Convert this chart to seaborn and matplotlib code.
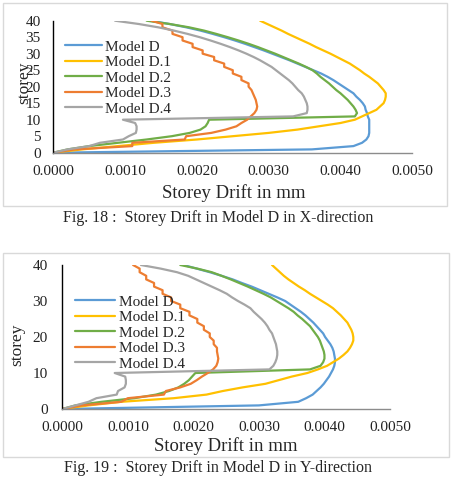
import matplotlib
matplotlib.use('Agg')
import matplotlib.pyplot as plt
import matplotlib.patches as mpatches
import seaborn as sns
import pandas as pd
import numpy as np

sns.set_theme(style='white')
plt.rcParams['font.family'] = ['Liberation Serif', 'DejaVu Serif']

models = ['Model D', 'Model D.1', 'Model D.2', 'Model D.3', 'Model D.4']
colors = ['#5B9BD5', '#FFC000', '#70AD47', '#ED7D31', '#A5A5A5']
storeys = list(range(41))

# Fig. 18 - X-direction drift per storey (0..40)
x_model_d = [0, 0.0036, 0.00418, 0.0043, 0.00436, 0.00439, 0.0044, 0.0044, 0.0044, 0.0044, 0.0044,
             0.00438, 0.00437, 0.00435, 0.00434, 0.00431, 0.00427, 0.00422, 0.00418, 0.00411, 0.00404,
             0.00397, 0.0039, 0.00382, 0.00373, 0.00362, 0.00351, 0.0034, 0.00329, 0.00317, 0.00305,
             0.00293, 0.0028, 0.00267, 0.00253, 0.00238, 0.00222, 0.00205, 0.00185, 0.00162, 0.00135]
x_model_d1 = [0, 0.0004, 0.0009, 0.0014, 0.002, 0.0025, 0.003, 0.0034, 0.0037, 0.004, 0.0042,
              0.0043, 0.0044, 0.0045, 0.00455, 0.0046, 0.00462, 0.00463, 0.00463, 0.0046, 0.00456,
              0.00452, 0.00446, 0.0044, 0.00433, 0.00427, 0.0042, 0.00413, 0.00404, 0.00395, 0.00386,
              0.00376, 0.00366, 0.00357, 0.00347, 0.00337, 0.00327, 0.00318, 0.00308, 0.00298, 0.00288]
x_model_d2 = [0, 0.0002, 0.0005, 0.0009, 0.0013, 0.00165, 0.0019, 0.00205, 0.00212, 0.00215, 0.00217,
              0.0042, 0.00423, 0.00421, 0.00418, 0.00414, 0.0041, 0.00405, 0.004, 0.00394, 0.00389,
              0.00384, 0.00378, 0.00372, 0.00367, 0.00361, 0.00352, 0.00342, 0.00331, 0.0032, 0.00309,
              0.00297, 0.00285, 0.00272, 0.00258, 0.00243, 0.00227, 0.0021, 0.00189, 0.00162, 0.0013]
x_model_d3 = [0, 0.0003, 0.0011, 0.0011, 0.00183, 0.00185, 0.0022, 0.0024, 0.00255, 0.00262, 0.0027,
              0.00275, 0.0028, 0.00283, 0.00284, 0.00283, 0.00282, 0.0028, 0.00278, 0.00276, 0.00272,
              0.00272, 0.00262, 0.00262, 0.0025, 0.0025, 0.00238, 0.00238, 0.00224, 0.00224, 0.00208,
              0.00208, 0.00194, 0.00194, 0.0018, 0.0018, 0.00166, 0.00166, 0.00152, 0.00152, 0.00137]
x_model_d4 = [0, 0.0002, 0.0005, 0.00065, 0.00097, 0.00105, 0.00115, 0.00116, 0.00116, 0.00114, 0.00097,
              0.00334, 0.00353, 0.00354, 0.00354, 0.00353, 0.00351, 0.00349, 0.00346, 0.00341, 0.00337,
              0.00333, 0.00328, 0.00322, 0.00316, 0.0031, 0.00304, 0.00296, 0.00288, 0.00279, 0.00269,
              0.00258, 0.00246, 0.00233, 0.00219, 0.00204, 0.00187, 0.00168, 0.00146, 0.00119, 0.00086]

# Fig. 19 - Y-direction drift per storey (0..40)
y_model_d = [0, 0.003, 0.0036, 0.00372, 0.00382, 0.00388, 0.00394, 0.00399, 0.00403, 0.00407, 0.0041,
             0.00413, 0.00415, 0.00416, 0.00416, 0.00415, 0.00414, 0.00412, 0.00409, 0.00405, 0.00401,
             0.00398, 0.00393, 0.00388, 0.00383, 0.00377, 0.00371, 0.00364, 0.00356, 0.00348, 0.0034,
             0.00328, 0.00315, 0.00302, 0.00289, 0.00274, 0.0026, 0.00243, 0.00225, 0.00205, 0.00185]
y_model_d1 = [0, 0.0004, 0.0009, 0.0017, 0.0022, 0.00245, 0.00275, 0.0031, 0.0033, 0.0035, 0.00374,
              0.0039, 0.00404, 0.00413, 0.00422, 0.00429, 0.00435, 0.00439, 0.00442, 0.00444, 0.00444,
              0.00443, 0.00441, 0.00438, 0.00435, 0.0043, 0.00425, 0.00419, 0.00413, 0.00405, 0.00396,
              0.00387, 0.00378, 0.0037, 0.00361, 0.00353, 0.00345, 0.00338, 0.00332, 0.00326, 0.0032]
y_model_d2 = [0, 0.0002, 0.0006, 0.0011, 0.00143, 0.00163, 0.00177, 0.00186, 0.00193, 0.00198, 0.00203,
              0.00378, 0.00394, 0.00398, 0.004, 0.004, 0.00399, 0.00397, 0.00395, 0.00393, 0.0039,
              0.00386, 0.00382, 0.00378, 0.00372, 0.00366, 0.00359, 0.00353, 0.00345, 0.00336, 0.00327,
              0.00318, 0.00307, 0.00295, 0.00283, 0.0027, 0.00257, 0.00243, 0.00228, 0.00206, 0.0018]
y_model_d3 = [0, 0.0003, 0.0009, 0.001, 0.00155, 0.00158, 0.0018, 0.00196, 0.00205, 0.00213, 0.00222,
              0.0023, 0.00235, 0.00237, 0.00238, 0.00237, 0.00236, 0.00236, 0.00231, 0.00231, 0.00225,
              0.00225, 0.00216, 0.00216, 0.00206, 0.00206, 0.00194, 0.00194, 0.0018, 0.0018, 0.00166,
              0.00166, 0.00153, 0.00153, 0.0014, 0.0014, 0.00128, 0.00128, 0.00118, 0.00118, 0.00108]
y_model_d4 = [0, 0.0002, 0.0004, 0.00052, 0.00083, 0.00085, 0.00095, 0.00097, 0.00097, 0.00096, 0.0008,
              0.00316, 0.00322, 0.00325, 0.00327, 0.00328, 0.00328, 0.00327, 0.00326, 0.00324, 0.00322,
              0.0032, 0.00316, 0.00313, 0.00309, 0.00304, 0.00298, 0.00292, 0.00287, 0.00278, 0.00268,
              0.00259, 0.00251, 0.0024, 0.00228, 0.00216, 0.00204, 0.00192, 0.00175, 0.0015, 0.0012]

x_ticks = [0.0, 0.001, 0.002, 0.003, 0.004, 0.005]
top_yticks = [0, 5, 10, 15, 20, 25, 30, 35, 40]
bottom_yticks = [0, 10, 20, 30, 40]


def long_frame(series):
    rows = []
    for name, vals in zip(models, series):
        for s, v in zip(storeys, vals):
            rows.append({'model': name, 'storey': s, 'drift': v})
    return pd.DataFrame(rows)


def draw_panel(ax, df, yticks, legend_anchor, handle_len, ypad, fig):
    sns.lineplot(data=df, x='drift', y='storey', hue='model', hue_order=models,
                 palette=dict(zip(models, colors)), sort=False, estimator=None,
                 linewidth=1.6, legend=False, ax=ax)
    ax.set_xlim(0, 0.005)
    ax.set_ylim(0, 40)
    ax.set_xticks(x_ticks)
    ax.set_xticklabels(['%.4f' % t for t in x_ticks])
    ax.set_yticks(yticks)
    ax.tick_params(axis='both', length=0, labelsize=11, colors='#222222')
    ax.tick_params(axis='y', pad=ypad)
    ax.tick_params(axis='x', pad=8.5)
    for side in ['top', 'right']:
        ax.spines[side].set_visible(False)
    ax.spines['left'].set_color('black')
    ax.spines['left'].set_linewidth(1.0)
    ax.spines['bottom'].set_color('#8c8c8c')
    ax.spines['bottom'].set_linewidth(1.0)
    ax.set_xlabel('Storey Drift in mm', fontsize=13.5)
    ax.set_ylabel('storey', fontsize=12.5)
    ax.legend(handles=ax.lines[:5], labels=models, loc='upper left',
              bbox_to_anchor=legend_anchor, bbox_transform=fig.transFigure,
              frameon=False, fontsize=11, handlelength=handle_len, handletextpad=0.25,
              labelspacing=0.12, borderpad=0, borderaxespad=0)


fig = plt.figure(figsize=(4.54, 4.8), dpi=100, facecolor='white')

# Panel frames
fig.patches.append(mpatches.Rectangle((3 / 454, 1 - 205.5 / 480), 444 / 454, 202.5 / 480,
                                      transform=fig.transFigure, fill=False,
                                      edgecolor='#d9d9d9', linewidth=1.0))
fig.patches.append(mpatches.Rectangle((3 / 454, 1 - 456.5 / 480), 446 / 454, 204 / 480,
                                      transform=fig.transFigure, fill=False,
                                      edgecolor='#d9d9d9', linewidth=1.0))

# Fig. 18
ax1 = fig.add_axes([53.3 / 454, 1 - 152.7 / 480, 359 / 454, 132 / 480])
draw_panel(ax1, long_frame([x_model_d, x_model_d1, x_model_d2, x_model_d3, x_model_d4]),
           top_yticks, (65 / 454, 1 - 40 / 480), 2.4, 9, fig)
ax1.xaxis.set_label_coords(0.503, -0.305)
ax1.xaxis.label.set_va('center')
ax1.yaxis.set_label_coords(-0.082, 0.528)
ax1.yaxis.label.set_va('center')
fig.text(218 / 454, 1 - 218 / 480, 'Fig. 18 :  Storey Drift in Model D in X-direction',
         ha='center', va='center', fontsize=11.5)

# Fig. 19
ax2 = fig.add_axes([62.3 / 454, 1 - 409 / 480, 327.7 / 454, 144 / 480])
draw_panel(ax2, long_frame([y_model_d, y_model_d1, y_model_d2, y_model_d3, y_model_d4]),
           bottom_yticks, (75 / 454, 1 - 295 / 480), 2.6, 10.5, fig)
ax2.xaxis.set_label_coords(0.499, -0.257)
ax2.xaxis.label.set_va('center')
ax2.yaxis.set_label_coords(-0.137, 0.444)
ax2.yaxis.label.set_va('center')
fig.text(218 / 454, 1 - 468 / 480, 'Fig. 19 :  Storey Drift in Model D in Y-direction',
         ha='center', va='center', fontsize=11.5)

fig.savefig('out.png', dpi=100)
